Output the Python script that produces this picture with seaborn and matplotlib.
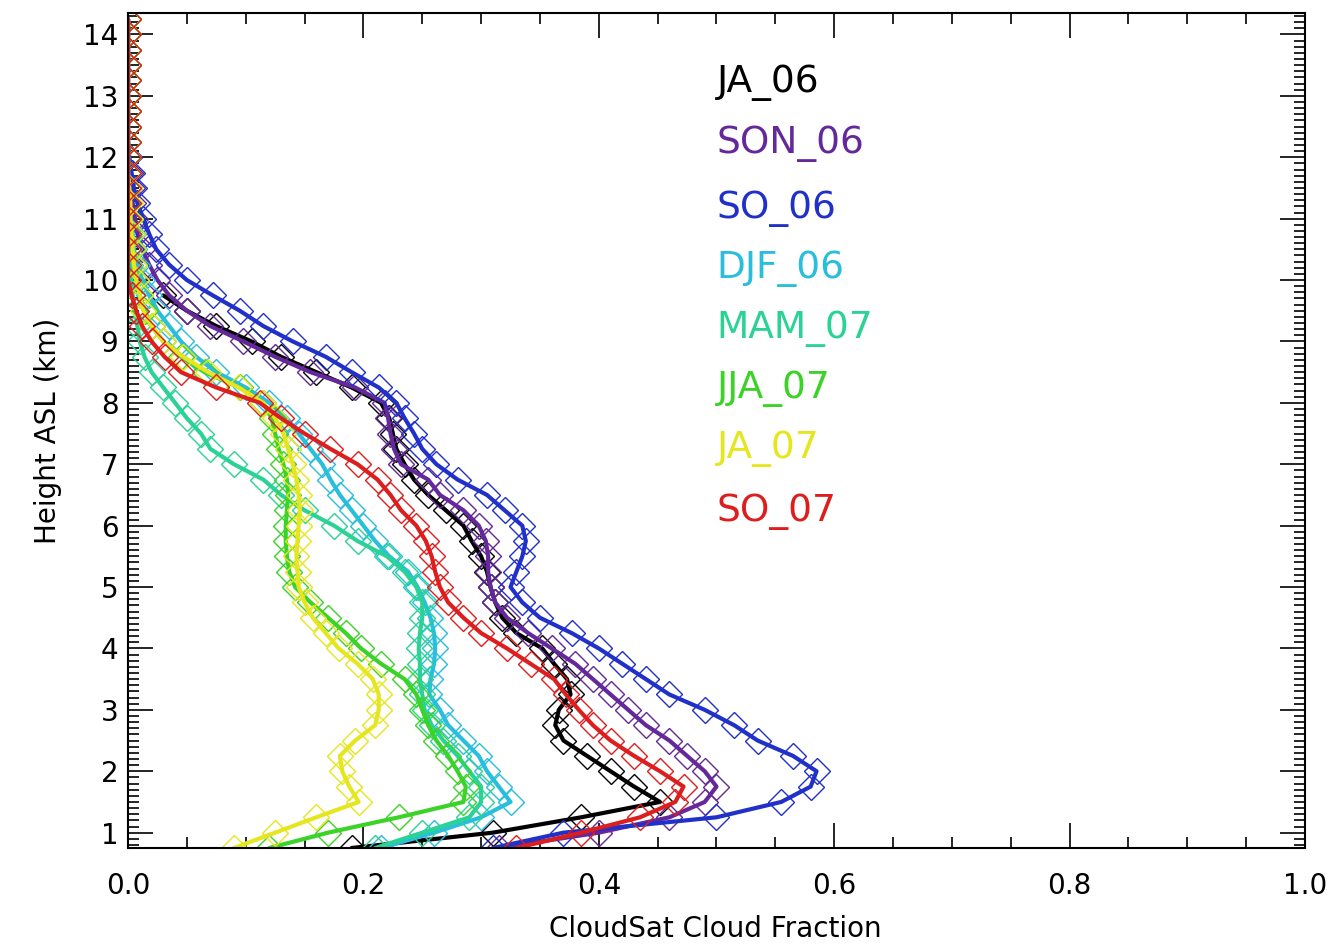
import numpy as np
import pandas as pd
import seaborn as sns
import matplotlib.pyplot as plt
from matplotlib.ticker import MultipleLocator

sns.set_style("ticks")
plt.rcParams['font.family'] = ['DejaVu Sans']
plt.rcParams['text.color'] = 'black'
plt.rcParams['axes.labelcolor'] = 'black'
plt.rcParams['xtick.color'] = 'black'
plt.rcParams['ytick.color'] = 'black'
plt.rcParams['axes.edgecolor'] = 'black'

# CloudSat height bins (km ASL)
heights = list(np.round(np.arange(0.75, 14.26, 0.25), 2))

seasons = ["JA_06", "SON_06", "SO_06", "DJF_06", "MAM_07", "JJA_07", "JA_07", "SO_07"]
colors = ["#000000", "#64289b", "#2030c8", "#28bedc", "#2ad296", "#3cd228", "#e6e61e", "#dc1e1e"]

# cloud fraction per height bin
ja_06 = [0.19, 0.31, 0.385, 0.452, 0.43, 0.41, 0.39, 0.37, 0.363, 0.366, 0.376, 0.373,
         0.362, 0.352, 0.33, 0.318, 0.312, 0.308, 0.305, 0.30, 0.292, 0.285, 0.27, 0.255,
         0.243, 0.235, 0.228, 0.225, 0.222, 0.215, 0.19, 0.16, 0.13, 0.105, 0.075, 0.05, 0.03]
son_06 = [0.315, 0.40, 0.46, 0.49, 0.50, 0.49, 0.475, 0.46, 0.44, 0.425, 0.41, 0.395,
          0.38, 0.36, 0.34, 0.322, 0.312, 0.308, 0.306, 0.306, 0.304, 0.298, 0.285, 0.265,
          0.255, 0.232, 0.226, 0.223, 0.221, 0.218, 0.193, 0.155, 0.125, 0.098, 0.07, 0.05,
          0.035, 0.025, 0.018, 0.012, 0.008, 0.006, 0.004, 0.003, 0.002, 0.001,
          0.0, 0.0, 0.0, 0.0, 0.0, 0.0, 0.0, 0.0, 0.0]
so_06 = [0.31, 0.37, 0.50, 0.555, 0.58, 0.585, 0.565, 0.535, 0.515, 0.49, 0.46, 0.44,
         0.42, 0.40, 0.377, 0.35, 0.335, 0.325, 0.33, 0.335, 0.338, 0.335, 0.32, 0.305,
         0.28, 0.262, 0.25, 0.243, 0.235, 0.228, 0.213, 0.19, 0.168, 0.14, 0.115, 0.095,
         0.072, 0.05, 0.035, 0.024, 0.018, 0.013, 0.008, 0.005, 0.003, 0.001,
         0.0, 0.0, 0.0, 0.0, 0.0, 0.0, 0.0, 0.0, 0.0]
djf_06 = [0.215, 0.26, 0.30, 0.325, 0.315, 0.305, 0.298, 0.285, 0.272, 0.265, 0.256, 0.257,
          0.26, 0.261, 0.26, 0.257, 0.252, 0.246, 0.238, 0.222, 0.21, 0.20, 0.19, 0.18,
          0.172, 0.165, 0.155, 0.145, 0.135, 0.12, 0.10, 0.075, 0.058, 0.045, 0.035, 0.025,
          0.018, 0.012, 0.008, 0.005, 0.004, 0.002, 0.001, 0.001, 0.0, 0.0,
          0.0, 0.0, 0.0, 0.0, 0.0, 0.0, 0.0, 0.0, 0.0]
mam_07 = [0.21, 0.25, 0.29, 0.30, 0.30, 0.29, 0.28, 0.268, 0.258, 0.252, 0.25, 0.248,
          0.248, 0.247, 0.248, 0.25, 0.25, 0.245, 0.235, 0.22, 0.195, 0.175, 0.15, 0.13,
          0.115, 0.09, 0.07, 0.062, 0.05, 0.04, 0.03, 0.02, 0.014, 0.01, 0.008, 0.006,
          0.004, 0.003, 0.002, 0.001, 0.001, 0.0, 0.0, 0.0, 0.0, 0.0,
          0.0, 0.0, 0.0, 0.0, 0.0, 0.0, 0.0, 0.0, 0.0]
jja_07 = [0.12, 0.17, 0.23, 0.285, 0.287, 0.28, 0.272, 0.262, 0.255, 0.25, 0.245, 0.235,
          0.215, 0.198, 0.185, 0.17, 0.155, 0.142, 0.137, 0.135, 0.134, 0.134, 0.135, 0.136,
          0.135, 0.132, 0.128, 0.125, 0.122, 0.115, 0.095, 0.065, 0.045, 0.03, 0.02, 0.014,
          0.01, 0.007, 0.005, 0.004, 0.003, 0.002, 0.001, 0.0, 0.0, 0.0,
          0.0, 0.0, 0.0, 0.0, 0.0, 0.0, 0.0, 0.0, 0.0]
ja_07 = [0.09, 0.125, 0.16, 0.196, 0.188, 0.182, 0.18, 0.193, 0.21, 0.213, 0.213, 0.208,
         0.195, 0.179, 0.168, 0.157, 0.15, 0.145, 0.144, 0.143, 0.144, 0.145, 0.146, 0.145,
         0.143, 0.14, 0.136, 0.132, 0.125, 0.115, 0.094, 0.068, 0.047, 0.03, 0.02, 0.013,
         0.01, 0.007, 0.005, 0.004, 0.003, 0.002, 0.002, 0.001, 0.0, 0.0,
         0.0, 0.0, 0.0, 0.0, 0.0, 0.0, 0.0, 0.0, 0.0]
so_07 = [0.33, 0.385, 0.435, 0.465, 0.472, 0.452, 0.43, 0.41, 0.395, 0.383, 0.372, 0.362,
         0.342, 0.322, 0.30, 0.285, 0.272, 0.265, 0.261, 0.258, 0.253, 0.245, 0.232, 0.223,
         0.212, 0.195, 0.172, 0.15, 0.13, 0.112, 0.075, 0.045, 0.031, 0.02, 0.012, 0.007,
         0.003, 0.0, 0.0, 0.0, 0.0, 0.0, 0.0, 0.0, 0.0, 0.0,
         0.0, 0.0, 0.0, 0.0, 0.0, 0.0, 0.0, 0.0, 0.0]

series = [ja_06, son_06, so_06, djf_06, mam_07, jja_07, ja_07, so_07]
frames = []
for name, vals in zip(seasons, series):
    frames.append(pd.DataFrame({"season": name,
                                "height": heights[:len(vals)],
                                "fraction": vals}))
df = pd.concat(frames, ignore_index=True)

fig = plt.figure(figsize=(13.42, 9.46), dpi=100)
ax = fig.add_axes([0.0954, 0.1036, 0.877, 0.8827])

sns.lineplot(data=df, x="fraction", y="height", hue="season", hue_order=seasons,
             palette=colors, orient="y", sort=False, estimator=None,
             marker="D", markersize=13, mfc="none", mew=1.0, lw=3,
             legend=False, ax=ax)
for line in ax.lines:
    line.set_markeredgecolor(line.get_color())

ax.set_xlim(0, 1.0)
ax.xaxis.set_major_locator(MultipleLocator(0.2))
ax.xaxis.set_minor_locator(MultipleLocator(0.05))
ax.yaxis.set_major_locator(MultipleLocator(1))
ax.yaxis.set_minor_locator(MultipleLocator(0.1))
ax.set_xticks(np.arange(0, 1.01, 0.2))
ax.set_xticklabels(["0.0", "0.2", "0.4", "0.6", "0.8", "1.0"])
ax.set_yticks(range(1, 15))
ax.set_ylim(0.75, 14.35)

ax.tick_params(which="both", direction="in", top=True, right=True, width=1.2, color="black")
ax.tick_params(which="major", length=18)
ax.tick_params(which="minor", length=8)
ax.tick_params(axis="x", pad=17, labelsize=20, labelcolor="black")
ax.tick_params(axis="y", pad=7, labelsize=20, labelcolor="black")
for sp in ax.spines.values():
    sp.set_linewidth(1.5)
    sp.set_color("black")

ax.set_xlabel("CloudSat Cloud Fraction", fontsize=20, color="black")
ax.set_ylabel("Height ASL (km)", fontsize=20, color="black")
ax.xaxis.set_label_coords(0.4987, -0.080)
ax.yaxis.set_label_coords(-0.056, 0.50)

label_y = [0.916, 0.843, 0.766, 0.694, 0.622, 0.550, 0.478, 0.403]
for name, col, yy in zip(seasons, colors, label_y):
    ax.text(0.5, yy, name, color=col, fontsize=27, ha="left", va="center",
            transform=ax.transAxes)

fig.savefig("out.png", dpi=100, facecolor="white")
